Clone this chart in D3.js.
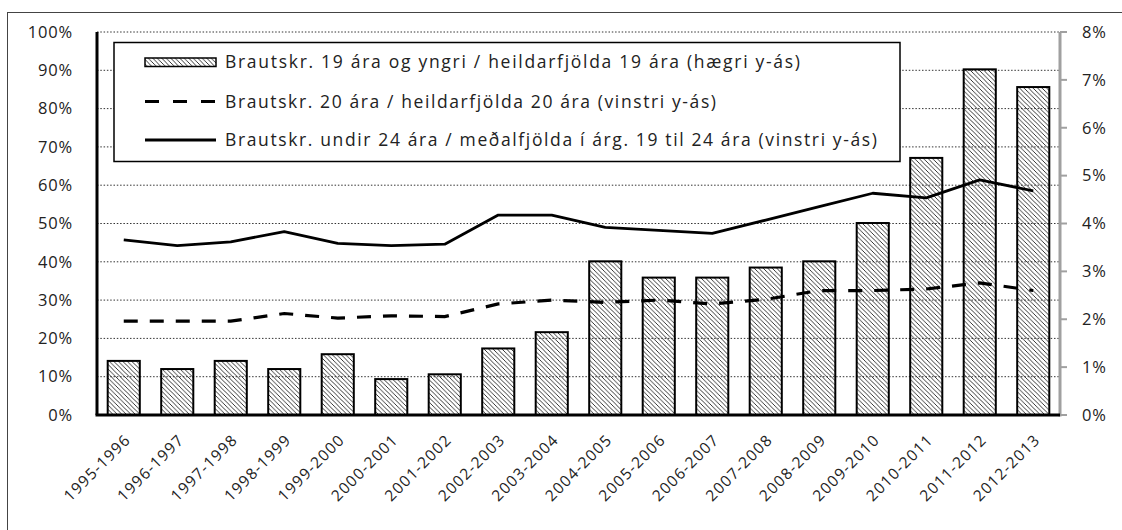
<!DOCTYPE html>
<html>
<head>
<meta charset="utf-8">
<script src="https://cdn.jsdelivr.net/npm/d3@7"></script>
<style>
  body { margin: 0; background: #fff; }
  svg { display: block; font-family: "Open Sans", sans-serif; }
</style>
</head>
<body>
<div id="chart"></div>
<script>
// Chart data
const categories = ['1995-1996', '1996-1997', '1997-1998', '1998-1999', '1999-2000', '2000-2001',
    '2001-2002', '2002-2003', '2003-2004', '2004-2005', '2005-2006', '2006-2007', '2007-2008',
    '2008-2009', '2009-2010', '2010-2011', '2011-2012', '2012-2013'];

// Bars: right axis (0-8%)
const age19 = [0.0113, 0.0096, 0.0113, 0.0096, 0.0127, 0.0075, 0.0085, 0.0139, 0.0173, 0.0321,
    0.0287, 0.0287, 0.0308, 0.0321, 0.0401, 0.0537, 0.0722, 0.0685];
// Dashed line: left axis
const age20 = [0.245, 0.245, 0.245, 0.265, 0.253, 0.259, 0.257, 0.290, 0.300, 0.294,
    0.300, 0.290, 0.302, 0.325, 0.325, 0.329, 0.345, 0.325];
// Solid line: left axis
const under24 = [0.457, 0.442, 0.452, 0.479, 0.448, 0.442, 0.446, 0.522, 0.522, 0.490,
    0.482, 0.474, 0.509, 0.544, 0.579, 0.567, 0.614, 0.585];

const leftTicks = [0, 0.1, 0.2, 0.3, 0.4, 0.5, 0.6, 0.7, 0.8, 0.9, 1];
const rightTicks = [0, 0.01, 0.02, 0.03, 0.04, 0.05, 0.06, 0.07, 0.08];

const legendLabels = [
    'Brautskr. 19 ára og yngri / heildarfjölda 19 ára (hægri y-ás)',
    'Brautskr. 20 ára / heildarfjölda 20 ára (vinstri y-ás)',
    'Brautskr. undir 24 ára / meðalfjölda í árg. 19 til 24 ára (vinstri y-ás)'
];

const width = 1122, height = 530;
const plot = { left: 97, right: 1060, top: 32, bottom: 415 };

const svg = d3.select('#chart').append('svg')
    .attr('width', width)
    .attr('height', height);

// hatch pattern for the bars
const defs = svg.append('defs');
defs.append('pattern')
    .attr('id', 'hatch')
    .attr('patternUnits', 'userSpaceOnUse')
    .attr('width', 4.5)
    .attr('height', 4.5)
    .append('path')
    .attr('d', 'M-1,-1 L5.5,5.5 M3.5,-1 L5.5,1 M-1,3.5 L1,5.5')
    .attr('stroke', '#222')
    .attr('stroke-width', 0.9);

// outer frame (only left/top edges fall inside the picture)
svg.append('rect')
    .attr('x', 7.5).attr('y', 12.5)
    .attr('width', 1200).attr('height', 600)
    .attr('fill', 'none')
    .attr('stroke', '#444')
    .attr('stroke-width', 1);

const x = d3.scaleBand()
    .domain(categories)
    .range([plot.left, plot.right])
    .paddingInner(0.4)
    .paddingOuter(0.2);

const yLeft = d3.scaleLinear().domain([0, 1]).range([plot.bottom, plot.top]);
const yRight = d3.scaleLinear().domain([0, 0.08]).range([plot.bottom, plot.top]);

// dotted gridlines
svg.append('g')
    .selectAll('line')
    .data(leftTicks.slice(1))
    .enter()
    .append('line')
    .attr('x1', plot.left)
    .attr('x2', plot.right)
    .attr('y1', d => yLeft(d))
    .attr('y2', d => yLeft(d))
    .attr('stroke', '#333')
    .attr('stroke-width', 1)
    .attr('stroke-dasharray', '1.5,1.8');

// bars
svg.append('g')
    .selectAll('rect')
    .data(age19)
    .enter()
    .append('rect')
    .attr('x', (d, i) => x(categories[i]))
    .attr('y', d => yRight(d))
    .attr('width', x.bandwidth())
    .attr('height', d => plot.bottom - yRight(d))
    .attr('fill', 'url(#hatch)')
    .attr('stroke', '#000')
    .attr('stroke-width', 2);

const cx = i => x(categories[i]) + x.bandwidth() / 2;

const line = d3.line()
    .x((d, i) => cx(i))
    .y(d => yLeft(d));

svg.append('path')
    .datum(age20)
    .attr('d', line)
    .attr('fill', 'none')
    .attr('stroke', '#000')
    .attr('stroke-width', 3.2)
    .attr('stroke-dasharray', '14,12');

svg.append('path')
    .datum(under24)
    .attr('d', line)
    .attr('fill', 'none')
    .attr('stroke', '#000')
    .attr('stroke-width', 2.8)
    .attr('stroke-linejoin', 'round');

// axes
svg.append('line')
    .attr('x1', plot.right).attr('x2', plot.right)
    .attr('y1', plot.top).attr('y2', plot.bottom + 1.5)
    .attr('stroke', '#a0a0a0')
    .attr('stroke-width', 3);

svg.append('g')
    .selectAll('line')
    .data(rightTicks)
    .enter()
    .append('line')
    .attr('x1', plot.right)
    .attr('x2', plot.right + 7)
    .attr('y1', d => yRight(d))
    .attr('y2', d => yRight(d))
    .attr('stroke', '#a0a0a0')
    .attr('stroke-width', 2);

svg.append('line')
    .attr('x1', plot.left).attr('x2', plot.left)
    .attr('y1', plot.top).attr('y2', plot.bottom)
    .attr('stroke', '#000')
    .attr('stroke-width', 3);

svg.append('line')
    .attr('x1', plot.left - 1.5).attr('x2', plot.right)
    .attr('y1', plot.bottom).attr('y2', plot.bottom)
    .attr('stroke', '#000')
    .attr('stroke-width', 3);

// left tick labels
svg.append('g')
    .selectAll('text')
    .data(leftTicks)
    .enter()
    .append('text')
    .attr('x', 73)
    .attr('y', d => yLeft(d))
    .attr('dy', '0.35em')
    .attr('text-anchor', 'end')
    .attr('font-size', 16.5)
    .attr('letter-spacing', 0.8)
    .attr('fill', '#222')
    .text(d => Math.round(d * 100) + '%');

// right tick labels
svg.append('g')
    .selectAll('text')
    .data(rightTicks)
    .enter()
    .append('text')
    .attr('x', 1082)
    .attr('y', d => yRight(d))
    .attr('dy', '0.35em')
    .attr('font-size', 16.5)
    .attr('letter-spacing', 0.8)
    .attr('fill', '#222')
    .text(d => Math.round(d * 100) + '%');

// category labels
svg.append('g')
    .selectAll('text')
    .data(categories)
    .enter()
    .append('text')
    .attr('transform', (d, i) => `translate(${cx(i) + 4},${437}) rotate(-45)`)
    .attr('dy', '0.35em')
    .attr('text-anchor', 'end')
    .attr('font-size', 15.5)
    .attr('letter-spacing', 1.2)
    .attr('fill', '#222')
    .text(d => d);

// legend
const legend = svg.append('g');
legend.append('rect')
    .attr('x', 114).attr('y', 42.5)
    .attr('width', 786).attr('height', 119)
    .attr('fill', '#fff')
    .attr('stroke', '#000')
    .attr('stroke-width', 1.5);

const rowY = [62, 101.5, 140];
const textLen = [575, 491, 652];

legend.append('rect')
    .attr('x', 145).attr('y', rowY[0] - 4)
    .attr('width', 71).attr('height', 8.5)
    .attr('fill', 'url(#hatch)')
    .attr('stroke', '#000')
    .attr('stroke-width', 1.5);

legend.append('line')
    .attr('x1', 145).attr('x2', 216)
    .attr('y1', rowY[1]).attr('y2', rowY[1])
    .attr('stroke', '#000')
    .attr('stroke-width', 3.2)
    .attr('stroke-dasharray', '14,14');

legend.append('line')
    .attr('x1', 145).attr('x2', 216)
    .attr('y1', rowY[2]).attr('y2', rowY[2])
    .attr('stroke', '#000')
    .attr('stroke-width', 2.8);

legend.selectAll('text.leg')
    .data(legendLabels)
    .enter()
    .append('text')
    .attr('class', 'leg')
    .attr('x', 225)
    .attr('y', (d, i) => rowY[i])
    .attr('dy', '0.35em')
    .attr('font-size', 17.5)
    .attr('textLength', (d, i) => textLen[i])
    .attr('lengthAdjust', 'spacing')
    .attr('fill', '#222')
    .text(d => d);
</script>
</body>
</html>
